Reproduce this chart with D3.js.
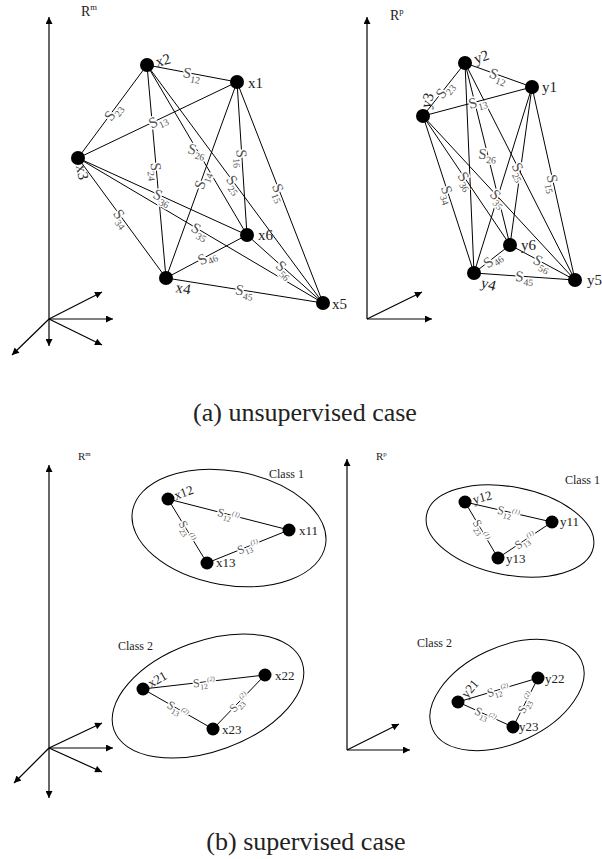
<!DOCTYPE html>
<html lang="en">
<head>
    <meta charset="UTF-8">
    <title>Unsupervised / supervised case</title>
    <script src="https://d3js.org/d3.v7.min.js"></script>
</head>
<style>
    body { margin: 0; background: #fff; }
    text { font-family: "Liberation Serif", "Times New Roman", serif; }
</style>
<body>
<script>
    // node coordinates, measured from the axis origin of each panel (y up)
    const aLeftNames = ["x1", "x2", "x3", "x4", "x5", "x6"];
    const aLeftX = [188, 98, 29, 117, 274, 198];
    const aLeftY = [237, 254, 161, 41, 16, 84];

    const aRightNames = ["y1", "y2", "y3", "y4", "y5", "y6"];
    const aRightX = [165, 98, 56, 107, 208, 143];
    const aRightY = [232, 256, 203, 46, 39, 74];

    // every pair is joined; label shown unless listed as hidden
    const aPairs = ["12", "13", "14", "15", "16", "23", "24", "25", "26", "34", "35", "36", "45", "46", "56"];
    const aRightHidden = ["14", "16", "24"];

    const bLeftClass1 = ["x11", "x12", "x13"];
    const bLeftClass1X = [240, 119, 158];
    const bLeftClass1Y = [218, 249, 185];
    const bLeftClass2 = ["x21", "x22", "x23"];
    const bLeftClass2X = [94, 216, 164];
    const bLeftClass2Y = [59, 73, 19];

    const bRightClass1 = ["y11", "y12", "y13"];
    const bRightClass1X = [205, 118, 151];
    const bRightClass1Y = [228, 248, 192];
    const bRightClass2 = ["y21", "y22", "y23"];
    const bRightClass2X = [111, 191, 166];
    const bRightClass2Y = [48, 72, 23];

    // [from, to, subscript]
    const class1Edges = [[1, 0, "12"], [1, 2, "23"], [2, 0, "13"]];
    const class2Edges = [[0, 1, "12"], [0, 2, "13"], [2, 1, "23"]];

    // cluster ellipses: centre x, centre y, rx, ry, tilt (deg)
    const bLeftEllipses = [[180, 220, 98, 57, 10], [159, 52, 100, 55, -20]];
    const bRightEllipses = [[163, 219, 85, 44, 11], [160, 55, 82, 48, -25]];

    const svg = d3.select("body").append("svg")
        .attr("width", 602)
        .attr("height", 859);

    const defs = svg.append("defs");
    defs.append("marker")
        .attr("id", "arrow")
        .attr("viewBox", "0 0 10 10")
        .attr("refX", 10).attr("refY", 5)
        .attr("markerWidth", 9).attr("markerHeight", 7)
        .attr("markerUnits", "userSpaceOnUse")
        .attr("orient", "auto-start-reverse")
        .append("path")
        .attr("d", "M0,0 L10,5 L0,10 z")
        .attr("fill", "#000");

    function panel(ox, oy) {
        const x = d3.scaleLinear().domain([0, 100]).range([ox, ox + 100]);
        const y = d3.scaleLinear().domain([0, 100]).range([oy, oy - 100]);
        return {x, y, g: svg.append("g")};
    }

    function drawAxes(p, top, bottom, vecs, space, sup, labX, labY, fs) {
        p.g.append("line")
            .attr("x1", p.x(0)).attr("x2", p.x(0))
            .attr("y1", p.y(bottom)).attr("y2", p.y(top))
            .attr("stroke", "#000").attr("stroke-width", 1.2)
            .attr("marker-end", "url(#arrow)")
            .attr("marker-start", bottom < 0 ? "url(#arrow)" : null);
        vecs.forEach(v => {
            p.g.append("line")
                .attr("x1", p.x(0)).attr("y1", p.y(0))
                .attr("x2", p.x(v[0])).attr("y2", p.y(v[1]))
                .attr("stroke", "#000").attr("stroke-width", 1.2)
                .attr("marker-end", "url(#arrow)");
        });
        const t = p.g.append("text")
            .attr("x", labX).attr("y", labY)
            .attr("font-size", fs).attr("fill", "#222");
        t.append("tspan").text(space);
        t.append("tspan").attr("font-size", fs * 0.62).attr("dy", -fs * 0.4).text(sup);
    }

    function edgeLabel(g, x1, y1, x2, y2, sub, sup, fs, rotOverride) {
        const mx = (x1 + x2) / 2, my = (y1 + y2) / 2;
        let ang = Math.atan2(y2 - y1, x2 - x1) * 180 / Math.PI;
        if (ang > 90) ang -= 180;
        if (ang <= -90) ang += 180;
        if (rotOverride !== undefined) ang = rotOverride;
        const t = g.append("text")
            .attr("transform", `translate(${mx},${my}) rotate(${ang})`)
            .attr("text-anchor", "middle")
            .attr("dy", "0.35em")
            .attr("font-size", fs)
            .attr("fill", "#555")
            .attr("stroke", "#fff").attr("stroke-width", 3)
            .attr("paint-order", "stroke");
        t.append("tspan").text("S");
        t.append("tspan").attr("font-size", fs * 0.65).attr("dy", fs * 0.25).text(sub);
        if (sup) {
            t.append("tspan").attr("font-size", fs * 0.55).attr("font-style", "italic")
                .attr("dy", -fs * 0.6).text(sup);
        }
    }

    function nodeLabels(p, names, xs, ys, offs, fs) {
        p.g.selectAll(null).data(names).join("text")
            .attr("transform", (d, i) => {
                const o = offs[i];
                return `translate(${p.x(xs[i]) + o[0]},${p.y(ys[i]) + o[1]}) rotate(${o[2]})`;
            })
            .attr("font-size", fs)
            .attr("fill", "#222")
            .text(d => d);
    }

    function nodes(p, xs, ys, r) {
        p.g.selectAll(null).data(xs).join("circle")
            .attr("cx", d => p.x(d))
            .attr("cy", (d, i) => p.y(ys[i]))
            .attr("r", r)
            .attr("fill", "#000");
    }

    // ---------- (a) unsupervised ----------
    function drawFull(p, names, xs, ys, hidden, rot26, offs) {
        const lines = p.g.append("g"), labs = p.g.append("g");
        aPairs.forEach(pr => {
            const i = +pr[0] - 1, j = +pr[1] - 1;
            lines.append("line")
                .attr("x1", p.x(xs[i])).attr("y1", p.y(ys[i]))
                .attr("x2", p.x(xs[j])).attr("y2", p.y(ys[j]))
                .attr("stroke", "#000").attr("stroke-width", 1);
            if (!hidden.includes(pr)) {
                edgeLabel(labs, p.x(xs[i]), p.y(ys[i]), p.x(xs[j]), p.y(ys[j]), pr, null, 15,
                    pr === "26" ? rot26 : undefined);
            }
        });
        nodes(p, xs, ys, 7);
        nodeLabels(p, names, xs, ys, offs, 15);
    }

    const pA1 = panel(49, 319);
    drawAxes(pA1, 302, -27, [[53, 27], [64, 0], [53, -26], [-37, -36]], "R", "m", 81, 16, 14);
    drawFull(pA1, aLeftNames, aLeftX, aLeftY, [], 14,
        [[11, 6, 0], [10, 2, -15], [-2, 8, 78], [9, 14, 10], [9, 6, 0], [11, 5, 0]]);

    const pA2 = panel(367, 319);
    drawAxes(pA2, 302, 0, [[55, 27], [65, 0]], "R", "p", 390, 20, 14);
    drawFull(pA2, aRightNames, aRightX, aRightY, aRightHidden, 5,
        [[10, 5, 0], [11, 1, -20], [7, -7, -75], [6, 14, 15], [12, 5, 0], [11, 5, 0]]);

    svg.append("text")
        .attr("x", 305).attr("y", 421)
        .attr("text-anchor", "middle")
        .attr("font-size", 26).attr("fill", "#222")
        .text("(a) unsupervised case");

    // ---------- (b) supervised ----------
    function drawClass(p, names, xs, ys, edges, sup, ell, offs) {
        p.g.append("ellipse")
            .attr("transform", `translate(${p.x(ell[0])},${p.y(ell[1])}) rotate(${ell[4]})`)
            .attr("rx", p.x(ell[2]) - p.x(0))
            .attr("ry", p.y(0) - p.y(ell[3]))
            .attr("fill", "none").attr("stroke", "#000").attr("stroke-width", 1);
        const lines = p.g.append("g"), labs = p.g.append("g");
        edges.forEach(e => {
            const [i, j, s] = e;
            lines.append("line")
                .attr("x1", p.x(xs[i])).attr("y1", p.y(ys[i]))
                .attr("x2", p.x(xs[j])).attr("y2", p.y(ys[j]))
                .attr("stroke", "#000").attr("stroke-width", 1);
            edgeLabel(labs, p.x(xs[i]), p.y(ys[i]), p.x(xs[j]), p.y(ys[j]), s, sup, 12);
        });
        nodes(p, xs, ys, 6.5);
        nodeLabels(p, names, xs, ys, offs, 13);
    }

    function classTitle(x, y, s) {
        svg.append("text").attr("x", x).attr("y", y)
            .attr("font-size", 12).attr("fill", "#222").text(s);
    }

    const pB1 = panel(49, 748);
    drawAxes(pB1, 283, -50, [[53, 25], [64, 0], [53, -24], [-35, -35]], "R", "m", 78, 460, 11);
    drawClass(pB1, bLeftClass1, bLeftClass1X, bLeftClass1Y, class1Edges, "(1)", bLeftEllipses[0],
        [[10, 5, 0], [8, 1, -20], [9, 4, 0]]);
    drawClass(pB1, bLeftClass2, bLeftClass2X, bLeftClass2Y, class2Edges, "(2)", bLeftEllipses[1],
        [[8, -1, -30], [10, 5, 0], [9, 5, 0]]);
    classTitle(269, 478, "Class 1");
    classTitle(118, 650, "Class 2");

    const pB2 = panel(347, 750);
    drawAxes(pB2, 291, 0, [[52, 26], [63, 0]], "R", "p", 376, 460, 11);
    drawClass(pB2, bRightClass1, bRightClass1X, bRightClass1Y, class1Edges, "(1)", bRightEllipses[0],
        [[8, 4, 0], [9, 2, -15], [8, 5, 0]]);
    drawClass(pB2, bRightClass2, bRightClass2X, bRightClass2Y, class2Edges, "(2)", bRightEllipses[1],
        [[9, -3, -50], [7, 5, 0], [6, 4, 0]]);
    classTitle(565, 484, "Class 1");
    classTitle(417, 647, "Class 2");

    svg.append("text")
        .attr("x", 306).attr("y", 850)
        .attr("text-anchor", "middle")
        .attr("font-size", 26).attr("fill", "#222")
        .text("(b) supervised case");
</script>
</body>
</html>
